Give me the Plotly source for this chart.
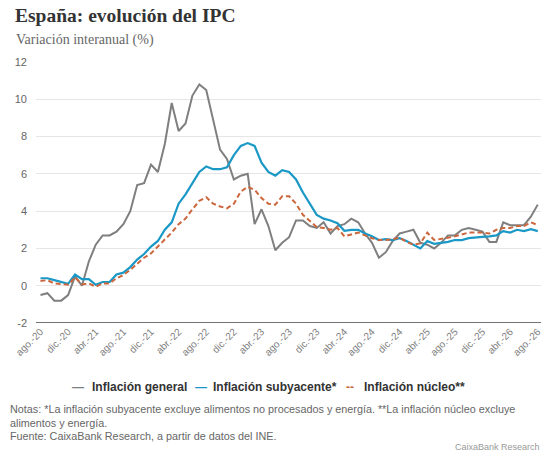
import plotly.graph_objects as go

# ---------------- data ----------------
month_abbr = ["ene.", "feb.", "mar.", "abr.", "may.", "jun.",
              "jul.", "ago.", "sep.", "oct.", "nov.", "dic."]

# monthly categories from ago.-20 to ago.-26
categories = []
for year in range(2020, 2027):
    for m in range(12):
        if (year == 2020 and m < 7) or (year == 2026 and m > 7):
            continue
        categories.append(f"{month_abbr[m]}-{str(year)[2:]}")

inflacion_general = [
    -0.5, -0.4, -0.8, -0.8, -0.5,
    0.5, 0.0, 1.3, 2.2, 2.7, 2.7, 2.9, 3.3, 4.0, 5.4, 5.5, 6.5,
    6.1, 7.6, 9.8, 8.3, 8.7, 10.2, 10.8, 10.5, 8.9, 7.3, 6.8, 5.7,
    5.9, 6.0, 3.3, 4.1, 3.2, 1.9, 2.3, 2.6, 3.5, 3.5, 3.2, 3.1,
    3.4, 2.8, 3.2, 3.3, 3.6, 3.4, 2.8, 2.3, 1.5, 1.8, 2.4, 2.8,
    2.9, 3.0, 2.3, 2.2, 2.0, 2.3, 2.7, 2.7, 3.0, 3.1, 3.0, 2.9,
    2.35, 2.35, 3.4, 3.25, 3.25, 3.25, 3.7, 4.35,
]

inflacion_subyacente = [
    0.4, 0.4, 0.3, 0.2, 0.1,
    0.6, 0.35, 0.35, 0.05, 0.2, 0.2, 0.6, 0.7, 1.0, 1.4, 1.7, 2.1,
    2.4, 3.0, 3.4, 4.4, 4.9, 5.5, 6.1, 6.4, 6.25, 6.25, 6.35, 7.0,
    7.5, 7.65, 7.5, 6.6, 6.1, 5.9, 6.2, 6.1, 5.7, 5.0, 4.4, 3.8,
    3.6, 3.5, 3.35, 2.95, 3.0, 3.0, 2.8, 2.65, 2.45, 2.5, 2.45, 2.55,
    2.4, 2.2, 2.0, 2.4, 2.25, 2.3, 2.35, 2.45, 2.45, 2.55, 2.6, 2.62,
    2.65, 2.7, 2.93, 2.85, 3.0, 2.93, 3.03, 2.93,
]

inflacion_nucleo = [
    0.25, 0.3, 0.12, 0.1, 0.05,
    0.45, 0.07, 0.12, -0.05, 0.12, 0.12, 0.4, 0.57, 0.85, 1.2, 1.5, 1.73,
    2.1, 2.5, 2.85, 3.3, 3.6, 4.1, 4.55, 4.75, 4.4, 4.25, 4.15, 4.4,
    5.05, 5.3, 5.15, 4.7, 4.4, 4.35, 4.8, 4.8, 4.4, 3.8, 3.45, 3.15,
    3.1, 3.0, 3.1, 2.65, 2.75, 2.85, 2.7, 2.55, 2.45, 2.45, 2.5, 2.57,
    2.35, 2.2, 2.27, 2.85, 2.45, 2.5, 2.57, 2.65, 2.75, 2.85, 2.85, 2.85,
    2.8, 3.0, 3.1, 3.1, 3.2, 3.2, 3.4, 3.25,
]

y_tick_values = [-2, 0, 2, 4, 6, 8, 10, 12]
y_tick_labels = ["-2", "0", "2", "4", "6", "8", "10", "12"]
x_tick_labels = categories[::4]

series_names = ["Inflación general", "Inflación subyacente*", "Inflación núcleo**"]
series_colors = ["#7f7f7f", "#1a98c6", "#cc673d"]

# ---------------- figure ----------------
W, H = 550, 455
L, R, T, B = 36, 9, 62, 132
plot_w = W - L - R
plot_h = H - T - B


def px_x(px):
    return (px - L) / plot_w


def px_y(py):
    return (H - B - py) / plot_h


fig = go.Figure()
fig.add_trace(go.Scatter(
    x=categories, y=inflacion_general, mode="lines", name=series_names[0],
    line=dict(color=series_colors[0], width=2)))
fig.add_trace(go.Scatter(
    x=categories, y=inflacion_subyacente, mode="lines", name=series_names[1],
    line=dict(color=series_colors[1], width=2.2)))
fig.add_trace(go.Scatter(
    x=categories, y=inflacion_nucleo, mode="lines", name=series_names[2],
    line=dict(color=series_colors[2], width=2, dash="5px,3px")))

fig.update_layout(
    width=W, height=H,
    margin=dict(l=L, r=R, t=T, b=B, autoexpand=False),
    paper_bgcolor="white", plot_bgcolor="white",
    font=dict(family="Liberation Sans, Arial, sans-serif", color="#666666"),
    showlegend=False,
    xaxis=dict(type="category", range=[-0.65, len(categories) - 1 + 0.47],
               tickmode="array", tickvals=x_tick_labels, ticktext=x_tick_labels,
               tickangle=-45, tickfont=dict(size=10, color="#808080"),
               showgrid=False, showline=False, zeroline=False, ticks=""),
    yaxis=dict(range=[-2, 12], tickmode="array", tickvals=y_tick_values,
               ticktext=y_tick_labels, tickfont=dict(size=11, color="#666666"),
               showgrid=True, gridcolor="#e6e6e6", gridwidth=1,
               zeroline=False, showline=False, ticks="", ticklabelstandoff=8),
    shapes=[dict(type="line", xref="paper", yref="y", x0=0, x1=1, y0=-2, y1=-2,
                 line=dict(color="#444444", width=1.5))],
)

ann = [
    dict(text="<b>España: evolución del IPC</b>", x=px_x(13), y=px_y(15),
         font=dict(family="Liberation Serif, Georgia, serif", size=19.5, color="#333333")),
    dict(text="Variación interanual (%)", x=px_x(14), y=px_y(40),
         font=dict(family="Liberation Serif, Georgia, serif", size=14, color="#666666")),
    dict(text="Notas: *La inflación subyacente excluye alimentos no procesados y energía. **La inflación núcleo excluye",
         x=px_x(8), y=px_y(409), font=dict(size=10.8, color="#666666")),
    dict(text="alimentos y energía.", x=px_x(8), y=px_y(423),
         font=dict(size=10.8, color="#666666")),
    dict(text="Fuente: CaixaBank Research, a partir de datos del INE.", x=px_x(8), y=px_y(436),
         font=dict(size=10.8, color="#666666")),
]
for a in ann:
    fig.add_annotation(xref="paper", yref="paper", xanchor="left", yanchor="middle",
                       showarrow=False, align="left", **a)
fig.add_annotation(text="CaixaBank Research", xref="paper", yref="paper",
                   x=px_x(542), y=px_y(447), xanchor="right", yanchor="middle",
                   showarrow=False, font=dict(size=9, color="#999999"))

# legend (short line samples as in the original)
legend_sample_x = [70, 193, 344]
legend_text_x = [90, 211, 362]
legend_symbols = ["—", "—", "--"]
for name, color, sx, tx, sym in zip(series_names, series_colors,
                                    legend_sample_x, legend_text_x, legend_symbols):
    fig.add_annotation(text=f"<b>{sym}</b>", xref="paper", yref="paper",
                       x=px_x(sx), y=px_y(387), xanchor="left", yanchor="middle",
                       showarrow=False, font=dict(size=12, color=color))
    fig.add_annotation(text=f"<b>{name}</b>", xref="paper", yref="paper",
                       x=px_x(tx), y=px_y(387), xanchor="left", yanchor="middle",
                       showarrow=False, font=dict(size=12, color="#333333"))

fig.write_html("out.html",
               config={"displayModeBar": False},
               post_script="document.body.style.margin='0';"
                           "document.body.style.overflow='hidden';")
